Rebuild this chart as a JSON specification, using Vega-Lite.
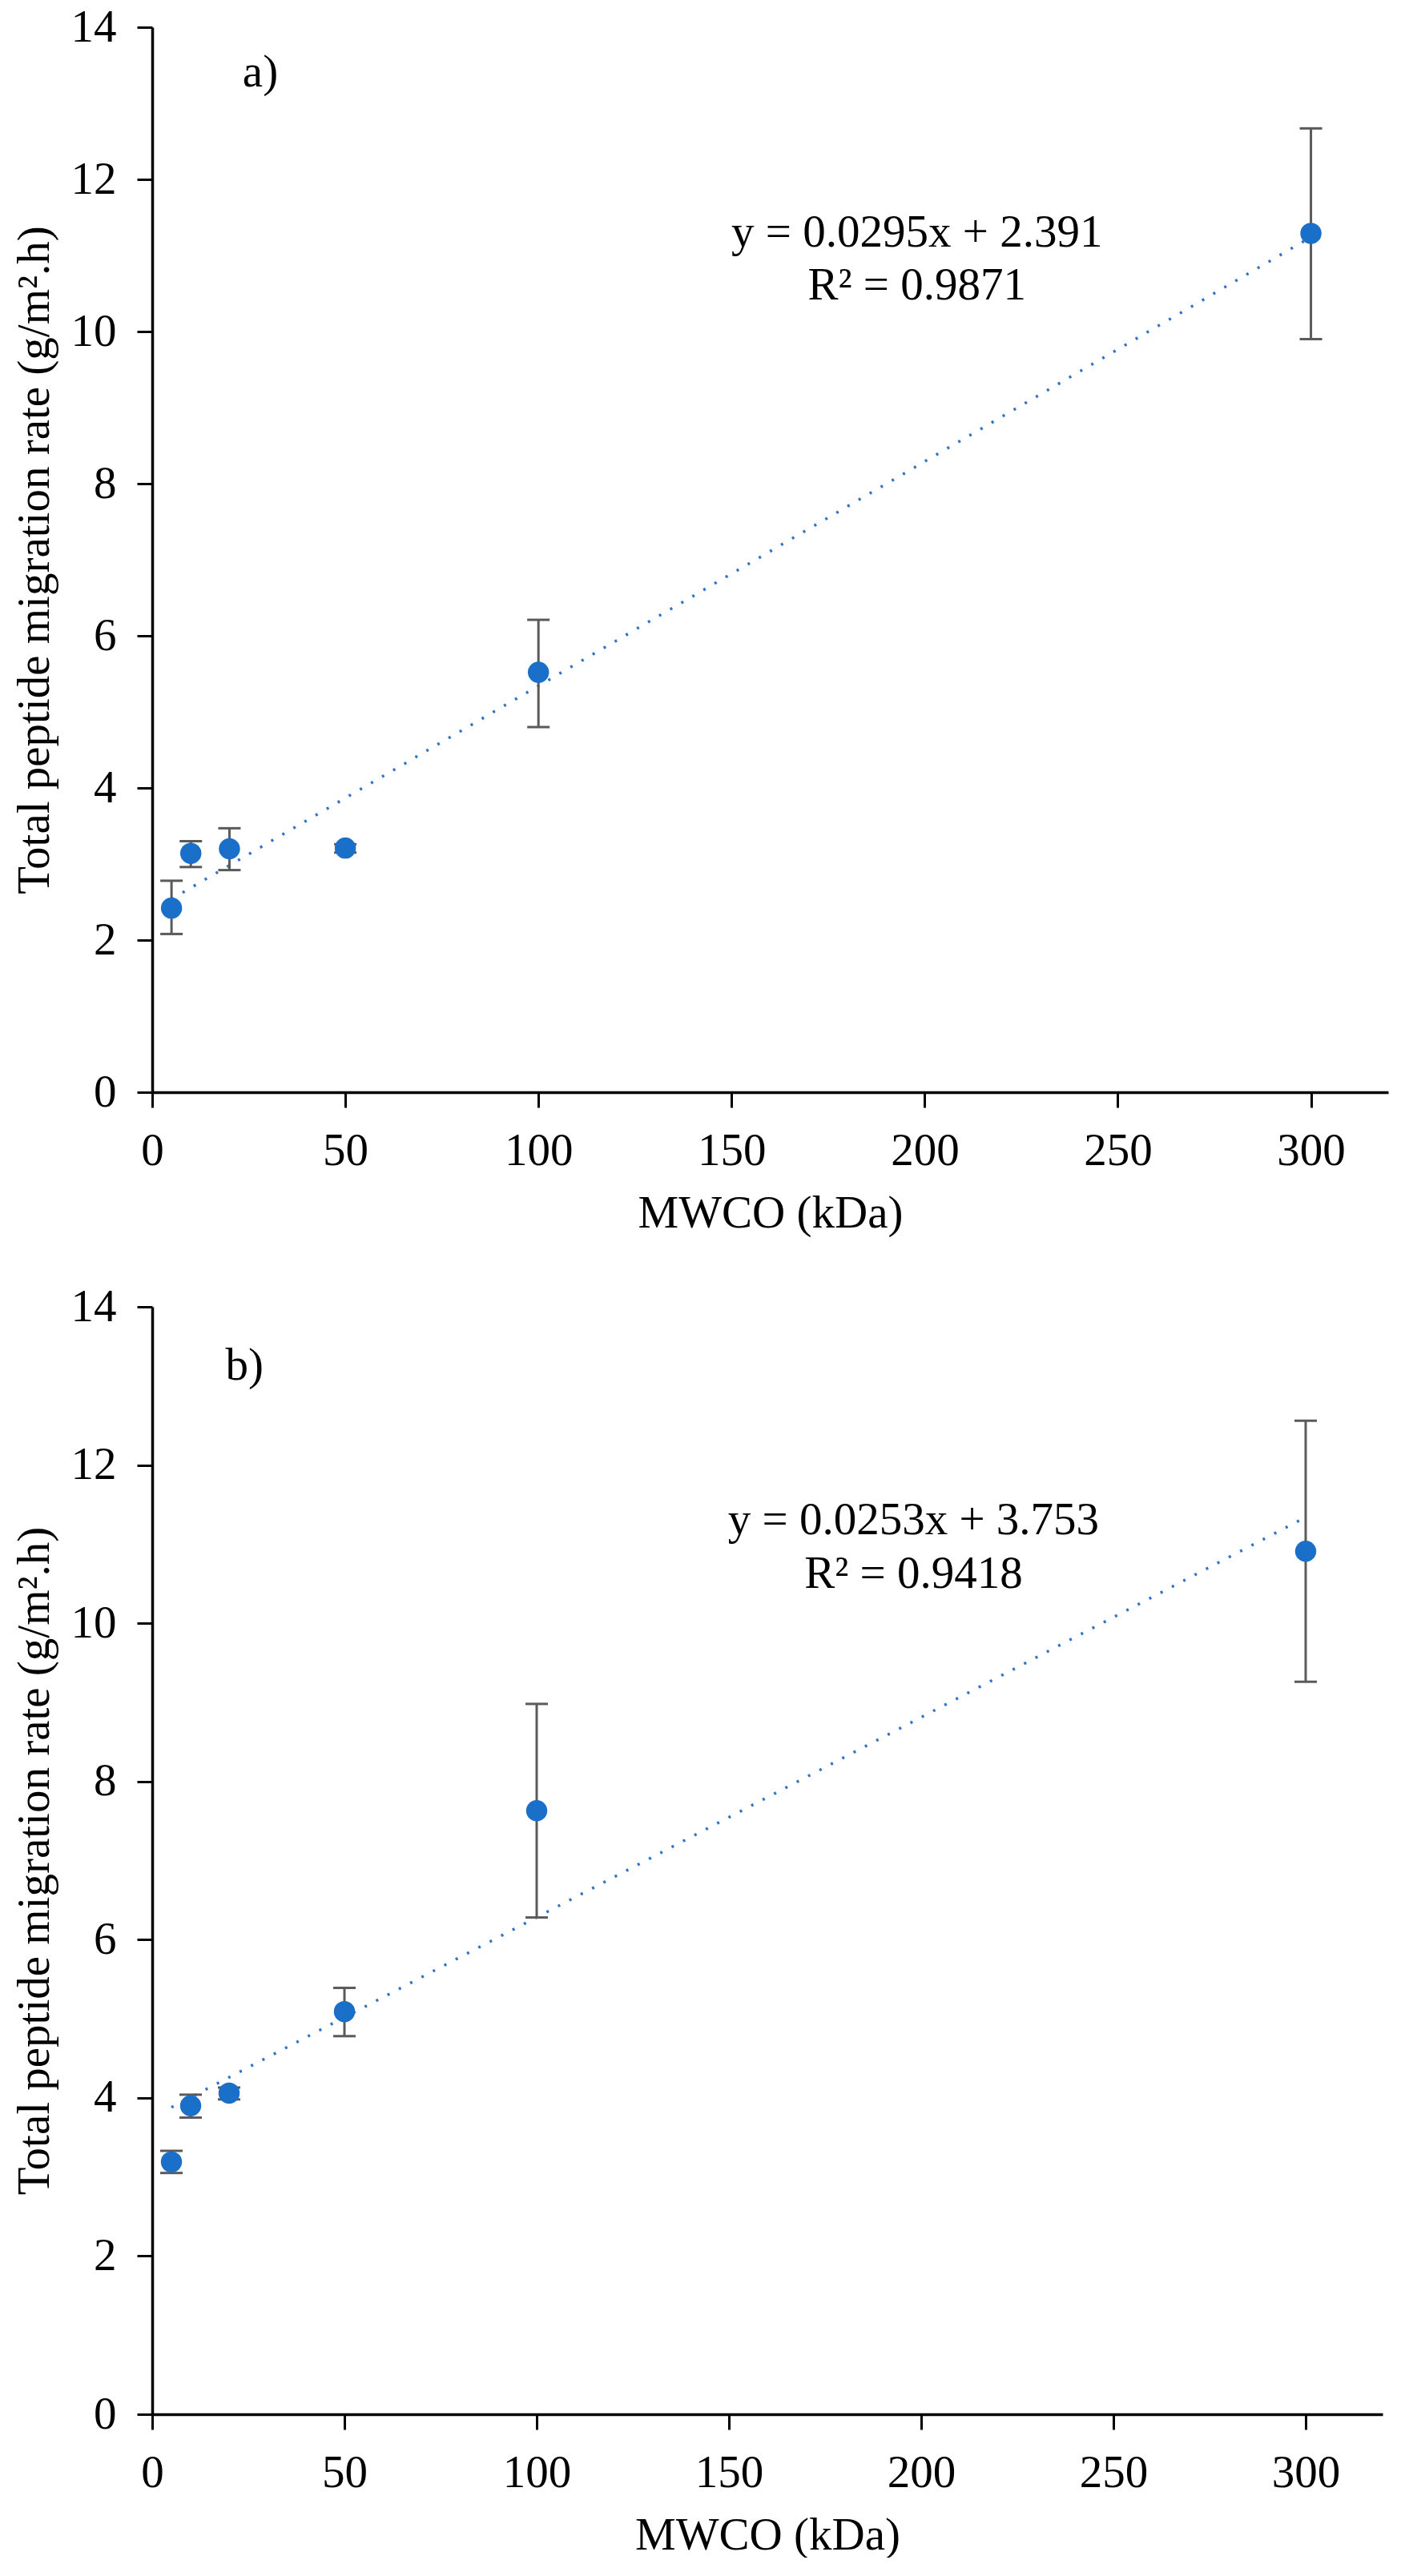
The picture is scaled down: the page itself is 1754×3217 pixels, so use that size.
{
  "$schema": "https://vega.github.io/schema/vega-lite/v6.json",
  "background": "white",
  "padding": {"left": 14, "top": 5, "right": 10, "bottom": 0},
  "spacing": 60,
  "datasets": {
    "a_points": [
      {"mwco": 5, "rate": 2.42, "lo": 2.08, "hi": 2.78},
      {"mwco": 10, "rate": 3.14, "lo": 2.96, "hi": 3.30},
      {"mwco": 20, "rate": 3.20, "lo": 2.92, "hi": 3.47},
      {"mwco": 50, "rate": 3.21, "lo": 3.15, "hi": 3.26},
      {"mwco": 100, "rate": 5.52, "lo": 4.80, "hi": 6.21},
      {"mwco": 300, "rate": 11.29, "lo": 9.90, "hi": 12.67}
    ],
    "b_points": [
      {"mwco": 5, "rate": 3.19, "lo": 3.05, "hi": 3.33},
      {"mwco": 10, "rate": 3.90, "lo": 3.75, "hi": 4.04},
      {"mwco": 20, "rate": 4.06, "lo": 3.98, "hi": 4.13},
      {"mwco": 50, "rate": 5.09, "lo": 4.78, "hi": 5.39},
      {"mwco": 100, "rate": 7.63, "lo": 6.28, "hi": 8.98},
      {"mwco": 300, "rate": 10.91, "lo": 9.26, "hi": 12.56}
    ],
    "a_trend": [
      {"mwco": 5, "rate": 2.54},
      {"mwco": 300, "rate": 11.24}
    ],
    "b_trend": [
      {"mwco": 5, "rate": 3.88},
      {"mwco": 300, "rate": 11.34}
    ],
    "a_text": [
      {"mwco": 28, "rate": 13.4, "label": "a)"},
      {"mwco": 198, "rate": 11.3, "label": "y = 0.0295x + 2.391"},
      {"mwco": 198, "rate": 10.6, "label": "R² = 0.9871"}
    ],
    "b_text": [
      {"mwco": 24, "rate": 13.25, "label": "b)"},
      {"mwco": 198, "rate": 11.3, "label": "y = 0.0253x + 3.753"},
      {"mwco": 198, "rate": 10.62, "label": "R² = 0.9418"}
    ]
  },
  "vconcat": [
    {
      "width": 1543,
      "height": 1330,
      "layer": [
        {
          "data": {"name": "a_trend"},
          "mark": {"type": "line", "color": "#2f74c7", "strokeWidth": 3.5, "strokeDash": [3, 13]},
          "encoding": {
            "x": {"field": "mwco", "type": "quantitative"},
            "y": {"field": "rate", "type": "quantitative"}
          }
        },
        {
          "data": {"name": "a_points"},
          "mark": {"type": "rule", "color": "#5a5a5a", "strokeWidth": 3},
          "encoding": {
            "x": {"field": "mwco", "type": "quantitative"},
            "y": {"field": "lo", "type": "quantitative"},
            "y2": {"field": "hi"}
          }
        },
        {
          "data": {"name": "a_points"},
          "mark": {"type": "tick", "orient": "horizontal", "color": "#5a5a5a", "size": 28, "thickness": 3, "opacity": 1},
          "encoding": {
            "x": {"field": "mwco", "type": "quantitative"},
            "y": {"field": "lo", "type": "quantitative"}
          }
        },
        {
          "data": {"name": "a_points"},
          "mark": {"type": "tick", "orient": "horizontal", "color": "#5a5a5a", "size": 28, "thickness": 3, "opacity": 1},
          "encoding": {
            "x": {"field": "mwco", "type": "quantitative"},
            "y": {"field": "hi", "type": "quantitative"}
          }
        },
        {
          "data": {"name": "a_points"},
          "mark": {"type": "circle", "color": "#1a6fc8", "size": 700, "opacity": 1},
          "encoding": {
            "x": {
              "field": "mwco", "type": "quantitative",
              "scale": {"domain": [0, 320], "nice": false},
              "axis": {"values": [0, 50, 100, 150, 200, 250, 300], "format": "d", "title": "MWCO (kDa)"}
            },
            "y": {
              "field": "rate", "type": "quantitative",
              "scale": {"domain": [0, 14], "nice": false},
              "axis": {"values": [0, 2, 4, 6, 8, 10, 12, 14], "format": "d", "title": "Total peptide migration rate (g/m².h)"}
            }
          }
        },
        {
          "data": {"name": "a_text"},
          "mark": {"type": "text", "font": "Liberation Serif", "fontSize": 57, "color": "black", "align": "center", "baseline": "middle"},
          "encoding": {
            "x": {"field": "mwco", "type": "quantitative"},
            "y": {"field": "rate", "type": "quantitative"},
            "text": {"field": "label"}
          }
        }
      ]
    },
    {
      "width": 1536,
      "height": 1383,
      "layer": [
        {
          "data": {"name": "b_trend"},
          "mark": {"type": "line", "color": "#2f74c7", "strokeWidth": 3.5, "strokeDash": [3, 13]},
          "encoding": {
            "x": {"field": "mwco", "type": "quantitative"},
            "y": {"field": "rate", "type": "quantitative"}
          }
        },
        {
          "data": {"name": "b_points"},
          "mark": {"type": "rule", "color": "#5a5a5a", "strokeWidth": 3},
          "encoding": {
            "x": {"field": "mwco", "type": "quantitative"},
            "y": {"field": "lo", "type": "quantitative"},
            "y2": {"field": "hi"}
          }
        },
        {
          "data": {"name": "b_points"},
          "mark": {"type": "tick", "orient": "horizontal", "color": "#5a5a5a", "size": 28, "thickness": 3, "opacity": 1},
          "encoding": {
            "x": {"field": "mwco", "type": "quantitative"},
            "y": {"field": "lo", "type": "quantitative"}
          }
        },
        {
          "data": {"name": "b_points"},
          "mark": {"type": "tick", "orient": "horizontal", "color": "#5a5a5a", "size": 28, "thickness": 3, "opacity": 1},
          "encoding": {
            "x": {"field": "mwco", "type": "quantitative"},
            "y": {"field": "hi", "type": "quantitative"}
          }
        },
        {
          "data": {"name": "b_points"},
          "mark": {"type": "circle", "color": "#1a6fc8", "size": 700, "opacity": 1},
          "encoding": {
            "x": {
              "field": "mwco", "type": "quantitative",
              "scale": {"domain": [0, 320], "nice": false},
              "axis": {"values": [0, 50, 100, 150, 200, 250, 300], "format": "d", "title": "MWCO (kDa)"}
            },
            "y": {
              "field": "rate", "type": "quantitative",
              "scale": {"domain": [0, 14], "nice": false},
              "axis": {"values": [0, 2, 4, 6, 8, 10, 12, 14], "format": "d", "title": "Total peptide migration rate (g/m².h)"}
            }
          }
        },
        {
          "data": {"name": "b_text"},
          "mark": {"type": "text", "font": "Liberation Serif", "fontSize": 57, "color": "black", "align": "center", "baseline": "middle"},
          "encoding": {
            "x": {"field": "mwco", "type": "quantitative"},
            "y": {"field": "rate", "type": "quantitative"},
            "text": {"field": "label"}
          }
        }
      ]
    }
  ],
  "config": {
    "view": {"stroke": null},
    "axis": {
      "grid": false,
      "domainColor": "black",
      "domainWidth": 3.5,
      "tickColor": "black",
      "tickWidth": 3,
      "tickSize": 19,
      "labelFont": "Liberation Serif",
      "labelFontSize": 57,
      "labelColor": "black",
      "labelPadding": 26,
      "labelFlush": false,
      "labelOverlap": false,
      "titleFont": "Liberation Serif",
      "titleFontSize": 57,
      "titleFontWeight": "normal",
      "titleColor": "black"
    },
    "axisX": {"titlePadding": 22},
    "axisY": {"titlePadding": 16}
  }
}
